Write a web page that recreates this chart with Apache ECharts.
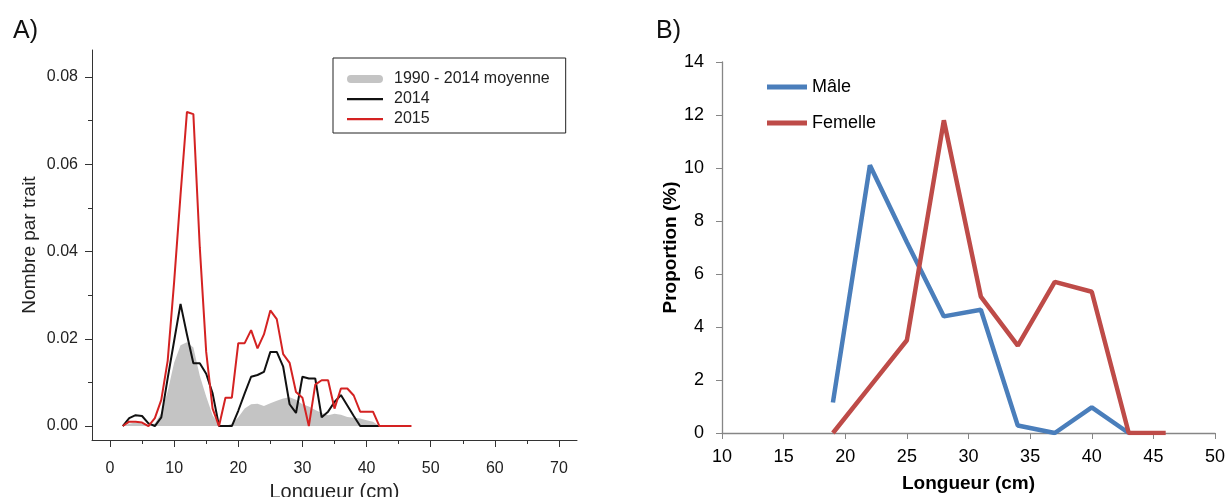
<!DOCTYPE html>
<html>
<head>
<meta charset="utf-8">
<script src="https://cdn.jsdelivr.net/npm/echarts@6/dist/echarts.min.js"></script>
<style>html,body{margin:0;padding:0;background:#fff}#c{width:1230px;height:497px}</style>
</head>
<body>
<div id="c"></div>
<script>
// ---- Panel A data (length in cm, 1-cm bins) ----
const lengthA = [2,3,4,5,6,7,8,9,10,11,12,13,14,15,16,17,18,19,20,21,22,23,24,25,26,27,28,29,30,31,32,33,34,35,36,37,38,39,40,41,42,43,44,45,46,47];
const moyenne = [0,0.0005,0.0008,0.0006,0.0003,0.0006,0.003,0.008,0.0145,0.0185,0.0192,0.018,0.0115,0.0068,0.0025,0.0003,0,0.0005,0.002,0.004,0.005,0.0051,0.0046,0.0052,0.0058,0.0063,0.0066,0.006,0.005,0.0045,0.0037,0.003,0.0025,0.0028,0.0026,0.0021,0.0019,0.0017,0.0013,0.001,0,null,null,null,null,null];
const y2014 = [0,0.0018,0.0025,0.0023,0.0006,0,0.002,0.011,0.0195,0.028,0.021,0.0144,0.0144,0.012,0.0075,0,0,0,0.0035,0.0075,0.0113,0.0117,0.0124,0.017,0.017,0.0136,0.005,0.003,0.0113,0.0109,0.0109,0.002,0.0033,0.0055,0.0071,0.0047,0.0023,0,0,0,0,null,null,null,null,null];
const y2015 = [0,0.001,0.001,0.0008,0,0.0018,0.006,0.015,0.033,0.053,0.072,0.0715,0.041,0.017,0.004,0,0.0065,0.0065,0.019,0.019,0.022,0.0178,0.021,0.0265,0.0245,0.0165,0.0145,0.0078,0.0065,0,0.0095,0.0105,0.0105,0.004,0.0086,0.0086,0.007,0.0033,0.0033,0.0033,0,0,0,0,0,0];
// tick ranges for panel A
const xTickRangeA = [0, 70, 10];      // min, max, step
const yTickRangeA = [0, 0.08, 0.02];

// ---- Panel B data ----
const lengthB = [19,22,25,28,31,34,37,40,43,46];
const male = [1.15,10.1,7.2,4.4,4.65,0.28,0,0.97,0,null];
const female = [0,1.75,3.5,11.8,5.15,3.3,5.7,5.33,0,0];

const pairs = (xs, ys) => xs.map((x,i) => [x, ys[i]]);
const FONT = "'Liberation Sans', Arial, sans-serif";
const AX = '#333';
const ICON_BAND = 'path://M0,0M36,14M4,3h28a4,4 0 0 1 0,8h-28a4,4 0 0 1 0,-8z';
const ICON_THIN = 'path://M0,0M36,14M0,6h36v2.2h-36z';
const ICON_THICK = 'path://M0,0M40,14M0,4.5h40v5h-40z';
const HIDDEN = (gi) => ({type:'value', gridIndex:gi, show:false, min:0, max:1});
const G = {outerBoundsMode:'none', containLabel:false};

const chart = echarts.init(document.getElementById('c'), null, {renderer:'canvas'});
chart.setOption({
  animation:false,
  backgroundColor:'#fff',
  textStyle:{fontFamily:FONT},
  title:[
    {text:'A)', left:8, top:14, textStyle:{fontSize:25, fontWeight:'normal', color:'#111', fontFamily:FONT}},
    {text:'B)', left:651, top:14, textStyle:{fontSize:25, fontWeight:'normal', color:'#111', fontFamily:FONT}}
  ],
  grid:[
    Object.assign({left:92, top:50, width:485, height:390}, G),   // 0 A: plot frame
    Object.assign({left:110, top:50, width:449, height:390}, G),  // 1 A: x labels + minor ticks
    Object.assign({left:92, top:77, width:485, height:349}, G),   // 2 A: y labels + minor ticks
    Object.assign({left:722, top:62, width:493, height:371}, G),  // 3 B
    Object.assign({left:110, top:440, width:449, height:7}, G),   // 4 A: x major tick marks
    Object.assign({left:85, top:77, width:7, height:349}, G)      // 5 A: y major tick marks
  ],
  legend:[
    {orient:'vertical', left:333, top:58, padding:[13,16,6,14], itemGap:4, itemWidth:36, itemHeight:14,
     borderColor:'#222', borderWidth:1, selectedMode:false,
     textStyle:{fontSize:16, color:'#222', padding:[0,0,0,6], fontFamily:FONT},
     data:[
       {name:'1990 - 2014 moyenne', icon:ICON_BAND, itemStyle:{color:'#c4c4c4'}},
       {name:'2014', icon:ICON_THIN, itemStyle:{color:'#111'}},
       {name:'2015', icon:ICON_THIN, itemStyle:{color:'#d42222'}}
     ]},
    {orient:'vertical', left:762, top:73, itemGap:18, itemWidth:40, itemHeight:14, selectedMode:false,
     textStyle:{fontSize:18, color:'#000', fontFamily:FONT},
     data:[
       {name:'Mâle', icon:ICON_THICK, itemStyle:{color:'#4a7ebb'}},
       {name:'Femelle', icon:ICON_THICK, itemStyle:{color:'#be4b48'}}
     ]}
  ],
  xAxis:[
    {type:'value', gridIndex:0, min:-2.8, max:72.8, position:'bottom',
     name:'Longueur (cm)', nameLocation:'middle', nameGap:42, nameTextStyle:{fontSize:20, color:'#222'},
     axisLine:{show:true, onZero:false, lineStyle:{color:AX, width:1}},
     axisTick:{show:false}, axisLabel:{show:false}, splitLine:{show:false}},
    {type:'value', gridIndex:1, min:xTickRangeA[0], max:xTickRangeA[1], interval:xTickRangeA[2], position:'bottom',
     axisLine:{show:false, onZero:false},
     axisTick:{show:false},
     minorTick:{show:true, splitNumber:2, length:4, lineStyle:{color:AX}},
     axisLabel:{show:true, margin:21, fontSize:16, color:'#222'},
     splitLine:{show:false}, minorSplitLine:{show:false}},
    HIDDEN(2),
    {type:'value', gridIndex:3, min:10, max:50, interval:5, position:'bottom',
     name:'Longueur (cm)', nameLocation:'middle', nameGap:41, nameTextStyle:{fontSize:19, fontWeight:'bold', color:'#000'},
     axisLine:{show:true, onZero:false, lineStyle:{color:'#868686', width:1.3}},
     axisTick:{show:true, length:6, lineStyle:{color:'#868686'}},
     axisLabel:{margin:15, fontSize:18, color:'#000'},
     splitLine:{show:false}},
    {type:'value', gridIndex:4, min:xTickRangeA[0], max:xTickRangeA[1], interval:xTickRangeA[2], position:'bottom',
     axisLine:{show:false, onZero:false}, axisTick:{show:false}, axisLabel:{show:false},
     splitLine:{show:true, showMinLine:true, showMaxLine:true, lineStyle:{color:AX, width:1}}},
    HIDDEN(5)
  ],
  yAxis:[
    {type:'value', gridIndex:0, min:-0.0032, max:0.0862, position:'left',
     name:'Nombre par trait', nameLocation:'middle', nameGap:53, nameTextStyle:{fontSize:19, color:'#222'},
     axisLine:{show:true, onZero:false, lineStyle:{color:AX, width:1}},
     axisTick:{show:false}, axisLabel:{show:false}, splitLine:{show:false}},
    HIDDEN(1),
    {type:'value', gridIndex:2, min:yTickRangeA[0], max:yTickRangeA[1], interval:yTickRangeA[2], position:'left',
     axisLine:{show:false, onZero:false},
     axisTick:{show:false},
     minorTick:{show:true, splitNumber:2, length:4, lineStyle:{color:AX}},
     axisLabel:{show:true, margin:14, fontSize:16, color:'#222', formatter:v=>v.toFixed(2)},
     splitLine:{show:false}, minorSplitLine:{show:false}},
    {type:'value', gridIndex:3, min:0, max:14, interval:2, position:'left',
     name:'Proportion (%)', nameLocation:'middle', nameGap:38, nameTextStyle:{fontSize:19, fontWeight:'bold', color:'#000'},
     axisLine:{show:true, onZero:false, lineStyle:{color:'#868686', width:1.3}},
     axisTick:{show:true, length:6, lineStyle:{color:'#868686'}},
     axisLabel:{margin:18, fontSize:18, color:'#000'},
     splitLine:{show:false}},
    HIDDEN(4),
    {type:'value', gridIndex:5, min:yTickRangeA[0], max:yTickRangeA[1], interval:yTickRangeA[2], position:'left',
     axisLine:{show:false, onZero:false}, axisTick:{show:false}, axisLabel:{show:false},
     splitLine:{show:true, showMinLine:true, showMaxLine:true, lineStyle:{color:AX, width:1}}}
  ],
  series:[
    {name:'1990 - 2014 moyenne', type:'line', xAxisIndex:0, yAxisIndex:0, data:pairs(lengthA, moyenne),
     symbol:'none', lineStyle:{width:0, color:'#c4c4c4'}, itemStyle:{color:'#c4c4c4'},
     areaStyle:{color:'#c4c4c4', opacity:1}},
    {name:'2014', type:'line', xAxisIndex:0, yAxisIndex:0, data:pairs(lengthA, y2014),
     symbol:'none', lineStyle:{width:2, color:'#111'}, itemStyle:{color:'#111'}},
    {name:'2015', type:'line', xAxisIndex:0, yAxisIndex:0, data:pairs(lengthA, y2015),
     symbol:'none', lineStyle:{width:2, color:'#d42222'}, itemStyle:{color:'#d42222'}},
    {name:'Mâle', type:'line', xAxisIndex:3, yAxisIndex:3, data:pairs(lengthB, male),
     symbol:'none', lineStyle:{width:4.5, color:'#4a7ebb'}, itemStyle:{color:'#4a7ebb'}},
    {name:'Femelle', type:'line', xAxisIndex:3, yAxisIndex:3, data:pairs(lengthB, female),
     symbol:'none', lineStyle:{width:4.5, color:'#be4b48'}, itemStyle:{color:'#be4b48'}}
  ]
});
</script>
</body>
</html>
